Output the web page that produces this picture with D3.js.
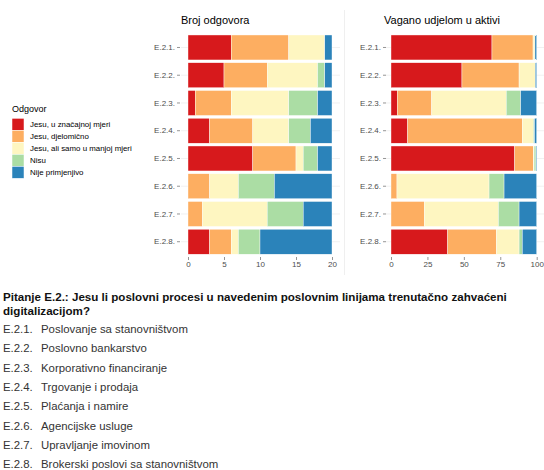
<!DOCTYPE html>
<html>
<head>
<meta charset="utf-8">
<script src="https://cdn.jsdelivr.net/npm/d3@7"></script>
<style>
  body { margin: 0; background: #fff; }
  svg { display: block; font-family: "Liberation Sans", Arial, sans-serif; }
</style>
</head>
<body>
<div id="chart"></div>
<script>
// categories and answers
const categories = ["E.2.1.", "E.2.2.", "E.2.3.", "E.2.4.", "E.2.5.", "E.2.6.", "E.2.7.", "E.2.8."];
const answers = ["Jesu, u značajnoj mjeri", "Jesu, djelomično", "Jesu, ali samo u manjoj mjeri", "Nisu", "Nije primjenjivo"];
const colors = ["#d7191c", "#fdae61", "#fef6c1", "#abdda4", "#2b83ba"];

// number of answers per category (one array per answer)
const countSignificant = [6, 5, 1, 3, 9, 0, 0, 3];
const countPartial     = [8, 6, 5, 6, 6, 3, 2, 3];
const countMinor       = [5, 7, 8, 5, 1, 4, 9, 1];
const countNo          = [0, 1, 4, 3, 2, 5, 5, 3];
const countNA          = [1, 1, 2, 3, 2, 8, 4, 10];

// weighted by share of assets (%)
const wSignificant = [69.3, 48.7, 4.3, 11.4, 84.9, 0, 0, 38.9];
const wPartial     = [28.2, 39.2, 23.6, 78.7, 12.8, 4.1, 22.9, 33.4];
const wMinor       = [1.3, 11.1, 51.2, 7.6, 0.5, 63.2, 50.8, 15.6];
const wNo          = [0, 0, 9.9, 0.8, 1.3, 10.3, 14.2, 2.2];
const wNA          = [1.2, 1.0, 11.0, 1.5, 0.5, 22.4, 12.1, 9.9];

const countTicks = [0, 5, 10, 15, 20];
const weightTicks = [0, 25, 50, 75, 100];

const questionLines = [
  "Pitanje E.2.: Jesu li poslovni procesi u navedenim poslovnim linijama trenutačno zahvaćeni",
  "digitalizacijom?"
];
const descriptions = [
  "Poslovanje sa stanovništvom",
  "Poslovno bankarstvo",
  "Korporativno financiranje",
  "Trgovanje i prodaja",
  "Plaćanja i namire",
  "Agencijske usluge",
  "Upravljanje imovinom",
  "Brokerski poslovi sa stanovništvom"
];

const width = 544, height = 470;
const svg = d3.select("#chart").append("svg")
  .attr("width", width)
  .attr("height", height);

const color = d3.scaleOrdinal().domain(answers).range(colors);

const y = d3.scaleBand()
  .domain(categories)
  .range([33.6, 255.6])
  .paddingInner(0.1)
  .paddingOuter(0.05);

function toRows(series) {
  return categories.map((c, i) => {
    const row = { cat: c };
    answers.forEach((a, j) => { row[a] = series[j][i]; });
    return row;
  });
}

// one panel of stacked horizontal bars
function panel(opts) {
  const x = d3.scaleLinear().domain(opts.domain).range(opts.range);
  const g = svg.append("g");

  // horizontal grid lines
  g.append("g").selectAll("line")
    .data(categories)
    .join("line")
    .attr("x1", opts.panel[0]).attr("x2", opts.panel[1])
    .attr("y1", d => y(d) + y.bandwidth() / 2)
    .attr("y2", d => y(d) + y.bandwidth() / 2)
    .attr("stroke", "#e6e6e6")
    .attr("stroke-width", 0.6);

  const stack = d3.stack().keys(answers)(toRows(opts.series));
  g.append("g").selectAll("g")
    .data(stack)
    .join("g")
    .attr("fill", d => color(d.key))
    .selectAll("rect")
    .data(d => d)
    .join("rect")
    .attr("x", d => x(d[0]))
    .attr("width", d => Math.max(0, x(d[1]) - x(d[0])))
    .attr("y", d => y(d.data.cat))
    .attr("height", y.bandwidth())
    .attr("stroke", "#fff")
    .attr("stroke-width", 0.4);

  // y axis
  const ya = g.append("g")
    .attr("transform", `translate(${opts.yAxisX},0)`)
    .call(d3.axisLeft(y).tickSize(3).tickPadding(2));
  ya.select(".domain").remove();
  ya.selectAll(".tick line").attr("stroke", "#4d4d4d").attr("stroke-width", 0.6);
  ya.selectAll(".tick text").attr("fill", "#4d4d4d").style("font-size", "8px");

  // x axis
  const xa = g.append("g")
    .attr("transform", "translate(0,257)")
    .call(d3.axisBottom(x).tickValues(opts.ticks).tickSize(3).tickPadding(1.5));
  xa.select(".domain").remove();
  xa.selectAll(".tick line").attr("stroke", "#4d4d4d").attr("stroke-width", 0.6);
  xa.selectAll(".tick text").attr("fill", "#4d4d4d").style("font-size", "8px");

  g.append("text")
    .attr("x", opts.titleX).attr("y", 24)
    .style("font-size", "11px")
    .attr("fill", "#000")
    .text(opts.title);
}

panel({
  title: "Broj odgovora", titleX: 181,
  domain: [0, 20], range: [188, 332], panel: [181, 340], yAxisX: 180,
  ticks: countTicks,
  series: [countSignificant, countPartial, countMinor, countNo, countNA]
});

panel({
  title: "Vagano udjelom u aktivi", titleX: 384,
  domain: [0, 100], range: [391, 536.7], panel: [386, 544], yAxisX: 386,
  ticks: weightTicks,
  series: [wSignificant, wPartial, wMinor, wNo, wNA]
});

// faint border between the two panels
svg.append("line")
  .attr("x1", 344.5).attr("x2", 344.5)
  .attr("y1", 10).attr("y2", 275)
  .attr("stroke", "#ebebeb")
  .attr("stroke-width", 0.8);

// legend
const legend = svg.append("g").attr("transform", "translate(12,0)");
legend.append("text")
  .attr("x", 0).attr("y", 112)
  .style("font-size", "9px")
  .text("Odgovor");
const items = legend.selectAll("g.item")
  .data(answers)
  .join("g")
  .attr("class", "item")
  .attr("transform", (d, i) => `translate(0,${118.3 + i * 12})`);
items.append("rect")
  .attr("width", 12).attr("height", 12)
  .attr("fill", d => color(d))
  .attr("stroke", "#fff")
  .attr("stroke-width", 0.5);
items.append("text")
  .attr("x", 18).attr("y", 8.9)
  .style("font-size", "7.9px")
  .text(d => d);

// question text below
const q = svg.append("g");
q.selectAll("text.q")
  .data(questionLines)
  .join("text")
  .attr("class", "q")
  .attr("x", 3)
  .attr("y", (d, i) => 300.7 + i * 14)
  .style("font-size", "11.6px")
  .style("font-weight", "bold")
  .attr("fill", "#111")
  .text(d => d);

const rows = q.selectAll("g.row")
  .data(categories)
  .join("g")
  .attr("class", "row")
  .attr("transform", (d, i) => `translate(0,${333 + i * 19.3})`);
rows.append("text")
  .attr("x", 3)
  .style("font-size", "11.4px")
  .attr("fill", "#333")
  .text(d => d);
rows.append("text")
  .attr("x", 41)
  .style("font-size", "11.4px")
  .attr("fill", "#333")
  .text((d, i) => descriptions[i]);
</script>
</body>
</html>
